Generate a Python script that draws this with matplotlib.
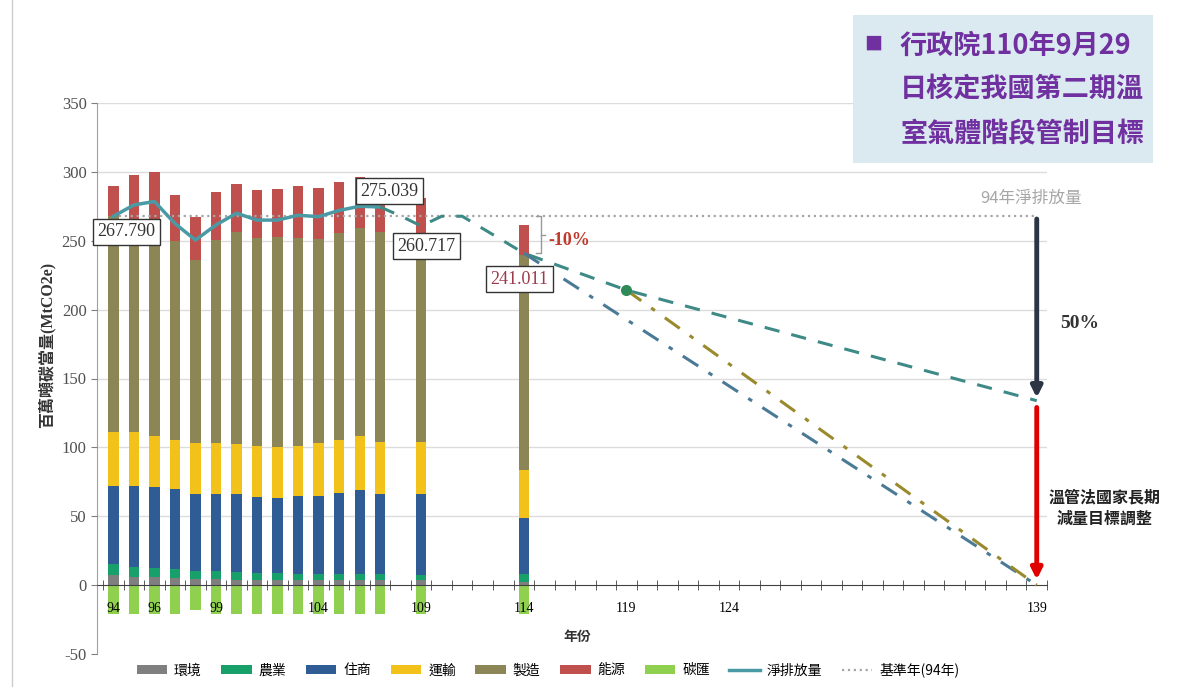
import matplotlib.pyplot as plt
from matplotlib.lines import Line2D
from matplotlib.patches import Rectangle
import numpy as np

plt.rcParams['font.family'] = ['Liberation Serif', 'Noto Sans CJK TC']
plt.rcParams['axes.unicode_minus'] = False
CJK = ['Noto Sans CJK TC', 'DejaVu Sans']

# 年度(民國)與各部門排放量 (MtCO2e)
years = [94, 95, 96, 97, 98, 99, 100, 101, 102, 103, 104, 105, 106, 107, 109, 114]
env = [7, 6, 6, 5, 4.5, 4.5, 4, 4, 4, 4, 4, 3.5, 3.5, 3.5, 3.5, 2]
agri = [8.5, 7.5, 6.5, 7, 5.5, 5.5, 5.5, 4.5, 4.5, 4, 4, 4.5, 4.5, 4.5, 4, 6]
res = [56.5, 58.5, 58.5, 57.5, 56.5, 56.5, 56.5, 55.5, 55, 56.5, 57, 59, 61, 58.5, 58.5, 40.5]
trans = [39, 39, 37.5, 36, 36.5, 36.5, 36.5, 37, 36.5, 36.5, 38, 38.5, 39, 37.5, 38, 35]
manu = [157, 155, 154.5, 144, 133, 147.5, 154, 151, 152.5, 151, 148, 150, 151, 152.5, 146, 156]
energy = [21.5, 31.5, 37, 33.5, 31.5, 35, 34.5, 34.5, 35, 37.5, 37, 37, 37.5, 38.5, 31, 22]
sink = [-21, -21, -21, -21, -18, -21, -21, -21, -21, -21, -21, -21, -21, -21, -21, -21]

sectors = ['環境', '農業', '住商', '運輸', '製造', '能源']
sector_colors = ['#7f7f7f', '#17a06a', '#2f5c94', '#f2c21b', '#8c8656', '#c0504d']
sink_color = '#8fd14f'

# 淨排放量
net_years = [94, 95, 96, 97, 98, 99, 100, 101, 102, 103, 104, 105, 106, 107]
net_vals = [267.79, 276, 278.5, 262.5, 250.5, 261.5, 270, 265, 265, 268.5, 267.5, 272, 275.039, 274.5]

# 規劃路徑
base_year_val = 267.79
path_years = [107, 108, 109, 110, 111, 114, 119, 139]
path_vals = [274.5, 268, 260.717, 267.79, 267.79, 241.011, 214.2, 133.9]
law_years = [114, 139]
law_vals = [241.011, 0]
adj_years = [119, 139]
adj_vals = [214.2, 0]

xtick_show = [94, 96, 99, 104, 109, 114, 119, 124, 139]
ytick_vals = [-50, 0, 50, 100, 150, 200, 250, 300, 350]

fig = plt.figure(figsize=(11.87, 6.87), dpi=100)
ax = fig.add_axes([97 / 1187, 33 / 687, 950 / 1187, 551 / 687])

# 格線 (只畫正值)
for yv in ytick_vals:
    if yv > 0:
        ax.axhline(yv, color='#dcdcdc', lw=1, zorder=0.5)

# 堆疊長條
stack = np.vstack([env, agri, res, trans, manu, energy])
bottom = np.zeros(len(years))
bar_handles = []
for vals, name, col in zip(stack, sectors, sector_colors):
    b = ax.bar(years, vals, bottom=bottom, width=0.5, color=col, label=name, zorder=2)
    bar_handles.append(b)
    bottom += vals
sb = ax.bar(years, sink, width=0.5, color=sink_color, label='碳匯', zorder=2)
bar_handles.append(sb)

# 線
base_line, = ax.plot([94, 139], [base_year_val, base_year_val], ':', color='#a6a6a6', lw=1.6, zorder=3)
net_line, = ax.plot(net_years, net_vals, '-', color='#4a9aa6', lw=2.5, zorder=4)
ax.plot(path_years, path_vals, '--', color='#3d8a86', lw=2.2, dashes=(5, 4), zorder=4)
ax.plot(law_years, law_vals, '-.', color='#4a7a96', lw=2.2, dashes=(6, 4, 1.5, 4), zorder=4)
ax.plot(adj_years, adj_vals, '-.', color='#9a8a2e', lw=2.2, dashes=(6, 4, 1.5, 4), zorder=4)
ax.plot(path_years[6], path_vals[6], 'o', color='#2f8a5a', ms=7, zorder=5)

# 數值標籤
box = dict(boxstyle='square,pad=0.25', fc='white', ec='#333333', lw=1)
ax.text(94.63, 256.4, f'{net_vals[0]:.3f}', ha='center', va='center', fontsize=13, color='#333333', bbox=box, zorder=6)
ax.text(107.45, 286, f'{net_vals[12]:.3f}', ha='center', va='center', fontsize=13, color='#333333', bbox=box, zorder=6)
ax.text(109.25, 246, f'{path_vals[2]:.3f}', ha='center', va='center', fontsize=13, color='#333333', bbox=box, zorder=6)
ax.text(113.8, 222, f'{path_vals[5]:.3f}', ha='center', va='center', fontsize=13, color='#9b3a4a', bbox=box, zorder=6)

# -10% 括號
bx = 114.85
ax.plot([bx - 0.25, bx, bx, bx - 0.25], [base_year_val, base_year_val, path_vals[5], path_vals[5]],
        color='#999999', lw=1, zorder=5)
mid = (base_year_val + path_vals[5]) / 2
ax.plot([bx, bx + 0.2], [mid, mid], color='#999999', lw=1, zorder=5)
ax.text(116.2, 250.5, '-10%', ha='center', va='center', fontsize=13, fontweight='bold', color='#c0392b')

# 右側箭頭
ax.annotate('', xy=(139, 134), xytext=(139, base_year_val),
            arrowprops=dict(arrowstyle='-|>', color='#2b3544', lw=3.5, mutation_scale=16), zorder=6)
ax.annotate('', xy=(139, 2), xytext=(139, 131),
            arrowprops=dict(arrowstyle='-|>', color='#e00000', lw=3.5, mutation_scale=16), zorder=6)
ax.text(138.7, 281, '94年淨排放量', ha='center', va='center', fontsize=12, color='#a6a6a6', family=CJK)
ax.text(141.1, 190, '50%', ha='center', va='center', fontsize=14, fontweight='bold', color='#333333')
ax.text(142.3, 56, '溫管法國家長期\n減量目標調整', ha='center', va='center', fontsize=11.5,
        fontweight='bold', color='#222222', family=CJK, linespacing=1.45)

# 軸
ax.set_xlim(93.2, 139.5)
ax.set_ylim(-50, 350)
ax.set_xticks(xtick_show)
ax.set_xticklabels([str(y) for y in xtick_show], fontsize=12, color='#404040')
ax.set_xticks(np.arange(93.5, 140, 1), minor=True)
ax.tick_params(axis='x', which='major', length=0, pad=12)
ax.tick_params(axis='x', which='minor', direction='inout', length=7, color='#404040')
ax.set_yticks(ytick_vals)
ax.tick_params(axis='y', length=4, color='#808080', labelsize=12, labelcolor='#505050')
ax.spines['bottom'].set_position(('data', 0))
ax.spines['bottom'].set_color('#404040')
ax.spines['left'].set_color('#a0a0a0')
ax.spines['top'].set_visible(False)
ax.spines['right'].set_visible(False)
ax.set_axisbelow(False)

ax.text(116.6, -38, '年份', ha='center', va='center', fontsize=10, fontweight='bold', color='#333333', family=CJK)
fig.text(47 / 1187, 1 - 345 / 687, '百萬噸碳當量(MtCO2e)', rotation=90, ha='center', va='center',
         fontsize=11.5, fontweight='bold', color='#333333')

# 圖例
handles = bar_handles + [net_line, base_line]
labels = sectors + ['碳匯', '淨排放量', '基準年(94年)']
fig.legend(handles, labels, loc='center', bbox_to_anchor=(548 / 1187, 1 - 670 / 687), ncol=9,
           frameon=False, handlelength=2.2, handleheight=0.7, columnspacing=1.4, handletextpad=0.5,
           prop={'family': CJK, 'size': 10})

# 右上標題框
fig.patches.append(Rectangle((853 / 1187, 1 - 163 / 687), 300 / 1187, 148 / 687,
                             transform=fig.transFigure, facecolor='#dbe9f0', edgecolor='none', zorder=1))
fig.text(873 / 1187, 1 - 45 / 687, '■', ha='center', va='center', fontsize=13, color='#7030a0', family=CJK)
title_lines = ['行政院110年9月29', '日核定我國第二期溫', '室氣體階段管制目標']
for i, line in enumerate(title_lines):
    fig.text(900 / 1187, 1 - (46 + 44 * i) / 687, line, ha='left', va='center', fontsize=19.5,
             fontweight='bold', color='#7030a0', family=CJK)

fig.lines.append(Line2D([12 / 1187, 12 / 1187], [0, 1], transform=fig.transFigure, color='#cccccc', lw=1))

fig.savefig('out.png', dpi=100)
